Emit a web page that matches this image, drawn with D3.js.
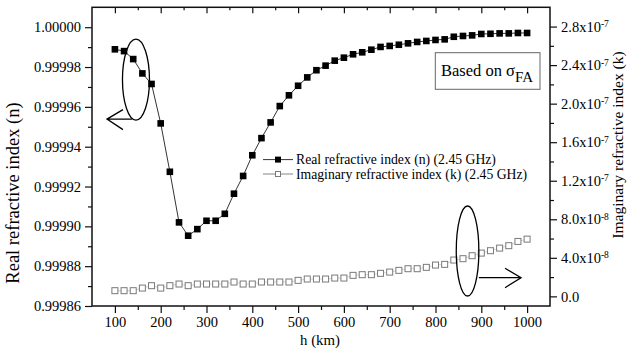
<!DOCTYPE html>
<html><head><meta charset="utf-8">
<script src="https://cdn.jsdelivr.net/npm/d3@7"></script>
<style>
body{margin:0;background:#fff}
svg{display:block}
</style>
</head><body>
<svg id="c" width="627" height="354"></svg>
<script>
// ---------- data ----------
const heights = [100,120,140,160,180,200,220,240,260,280,300,320,340,360,380,400,420,440,460,480,
  500,520,540,560,580,600,620,640,660,680,700,720,740,760,780,800,820,840,860,880,900,920,940,960,980,1000];
const realN = [0.9999889,0.9999880,0.9999840,0.9999768,0.9999715,0.9999517,0.9999274,0.9999020,0.9998953,0.9998986,
  0.9999028,0.9999028,0.9999063,0.9999164,0.9999253,0.9999357,0.9999443,0.9999522,0.9999604,0.9999658,
  0.9999706,0.9999748,0.9999784,0.9999807,0.9999832,0.9999847,0.9999864,0.9999874,0.9999887,0.9999901,
  0.9999906,0.9999912,0.9999919,0.9999926,0.9999931,0.9999936,0.9999939,0.9999952,0.9999956,0.9999959,
  0.9999966,0.9999967,0.9999969,0.9999969,0.9999971,0.9999971];
const imagK = [0.59e-8,0.59e-8,0.59e-8,0.86e-8,1.11e-8,0.86e-8,1.11e-8,1.28e-8,1.11e-8,1.28e-8,
  1.28e-8,1.28e-8,1.28e-8,1.49e-8,1.28e-8,1.28e-8,1.49e-8,1.49e-8,1.49e-8,1.49e-8,
  1.66e-8,1.80e-8,1.80e-8,1.80e-8,1.90e-8,1.90e-8,2.18e-8,2.25e-8,2.25e-8,2.39e-8,
  2.52e-8,2.70e-8,2.87e-8,2.87e-8,3.01e-8,3.25e-8,3.32e-8,3.77e-8,3.91e-8,4.22e-8,
  4.49e-8,4.74e-8,5.01e-8,5.26e-8,5.70e-8,5.94e-8];
const xTicks = [100,200,300,400,500,600,700,800,900,1000];
const xMinor = [150,250,350,450,550,650,750,850,950];
const leftTicks = [0.99986,0.99988,0.99990,0.99992,0.99994,0.99996,0.99998,1.00000];
const leftMinor = [0.99987,0.99989,0.99991,0.99993,0.99995,0.99997,0.99999];
const rightTicks = [0,4e-8,8e-8,1.2e-7,1.6e-7,2.0e-7,2.4e-7,2.8e-7];
const rightTickLabels = [["0.0",""],["4.0x10","-8"],["8.0x10","-8"],["1.2x10","-7"],["1.6x10","-7"],["2.0x10","-7"],["2.4x10","-7"],["2.8x10","-7"]];
const rightMinor = [2e-8,6e-8,1.0e-7,1.4e-7,1.8e-7,2.2e-7,2.6e-7];
const seriesNames = ["Real refractive index (n) (2.45 GHz)","Imaginary refractive index (k) (2.45 GHz)"];
// annotation ellipse centres in data space
const leftMarker = [146, 0.9999737];
const rightMarker = [870, 4.71e-8];

// ---------- layout ----------
const FF = '"Liberation Serif", "Times New Roman", Tinos, "DejaVu Serif", serif';
const L = 92, R = 550, T = 7.3, B = 306;
const svg = d3.select("#c").attr("font-family", FF);
const x = d3.scaleLinear().domain([50,1050]).range([L,R]);
const yL = d3.scaleLinear().domain([0.99986,1.00001]).range([B,T]);
const yR = d3.scaleLinear().domain([-1e-8,3e-7]).range([B,T]);

const FS = "14.5px";
function styleAxis(g){
  g.attr("font-family", FF);
  g.select(".domain").remove();
  g.selectAll(".tick line").attr("stroke","#111").attr("stroke-width",1.2);
  g.selectAll(".tick text").style("font-size",FS).attr("fill","#000");
}
// bottom
svg.append("g").attr("transform",`translate(0,${B})`)
  .call(d3.axisBottom(x).tickValues(xTicks).tickSize(7).tickPadding(4).tickFormat(d3.format("d"))).call(styleAxis);
svg.append("g").attr("transform",`translate(0,${B})`)
  .call(d3.axisBottom(x).tickValues(xMinor).tickSize(4).tickFormat("")).call(styleAxis);
// top (inward)
svg.append("g").attr("transform",`translate(0,${T})`)
  .call(d3.axisBottom(x).tickValues(xTicks).tickSize(6).tickFormat("")).call(styleAxis);
svg.append("g").attr("transform",`translate(0,${T})`)
  .call(d3.axisBottom(x).tickValues(xMinor).tickSize(3).tickFormat("")).call(styleAxis);
// left
svg.append("g").attr("transform",`translate(${L},0)`)
  .call(d3.axisLeft(yL).tickValues(leftTicks).tickSize(7).tickPadding(4).tickFormat(d=>d.toFixed(5))).call(styleAxis);
svg.append("g").attr("transform",`translate(${L},0)`)
  .call(d3.axisLeft(yL).tickValues(leftMinor).tickSize(4).tickFormat("")).call(styleAxis);
// right
const gR = svg.append("g").attr("transform",`translate(${R},0)`)
  .call(d3.axisRight(yR).tickValues(rightTicks).tickSize(7).tickPadding(4).tickFormat("")).call(styleAxis);
gR.selectAll(".tick text").each(function(d,i){
  const t = d3.select(this);
  const lab = rightTickLabels[i];
  t.text(null);
  t.append("tspan").text(lab[0]);
  if(lab[1]) t.append("tspan").attr("dy","-0.5em").style("font-size","9.5px").text(lab[1]);
});
svg.append("g").attr("transform",`translate(${R},0)`)
  .call(d3.axisRight(yR).tickValues(rightMinor).tickSize(4).tickFormat("")).call(styleAxis);

// frame
svg.append("rect").attr("x",L).attr("y",T).attr("width",R-L).attr("height",B-T)
  .attr("fill","none").attr("stroke","#111").attr("stroke-width",1.5);

// ---------- series ----------
const lineReal = d3.line().x((d,i)=>x(heights[i])).y(d=>yL(d));
const lineImag = d3.line().x((d,i)=>x(heights[i])).y(d=>yR(d));
svg.append("path").attr("d",lineImag(imagK)).attr("fill","none").attr("stroke","#aaa").attr("stroke-width",0.5);
svg.append("g").selectAll("rect").data(imagK).join("rect")
  .attr("x",(d,i)=>x(heights[i])-3).attr("y",d=>yR(d)-3).attr("width",6).attr("height",6)
  .attr("fill","#fff").attr("stroke","#7a7a7a").attr("stroke-width",1);
svg.append("path").attr("d",lineReal(realN)).attr("fill","none").attr("stroke","#000").attr("stroke-width",0.8);
svg.append("g").selectAll("rect").data(realN).join("rect")
  .attr("x",(d,i)=>x(heights[i])-3.3).attr("y",d=>yL(d)-3.3).attr("width",6.6).attr("height",6.6)
  .attr("fill","#000");

// ---------- annotations ----------
const lcx = x(leftMarker[0]), lcy = yL(leftMarker[1]);
svg.append("ellipse").attr("cx",lcx).attr("cy",lcy).attr("rx",13.5).attr("ry",40.5)
  .attr("fill","none").attr("stroke","#000").attr("stroke-width",1.3);
svg.append("path").attr("d",`M${lcx-4},${lcy+39.5}L${lcx-29},${lcy+39.5}M${lcx-13},${lcy+30}L${lcx-29},${lcy+39.5}L${lcx-13},${lcy+50}`)
  .attr("fill","none").attr("stroke","#000").attr("stroke-width",1.3);
const rcx = x(rightMarker[0]), rcy = yR(rightMarker[1]);
svg.append("ellipse").attr("cx",rcx).attr("cy",rcy).attr("rx",11.3).attr("ry",45)
  .attr("fill","none").attr("stroke","#000").attr("stroke-width",1.3);
svg.append("path").attr("d",`M${rcx+11.3},${rcy+26.7}L${rcx+53.5},${rcy+26.7}M${rcx+37.5},${rcy+17.3}L${rcx+53.5},${rcy+26.7}L${rcx+37.5},${rcy+36.7}`)
  .attr("fill","none").attr("stroke","#000").attr("stroke-width",1.3);

// ---------- legend ----------
const lg = svg.append("g");
const legY = [159.6, 174.0];
legY.forEach((yy,i)=>{
  lg.append("line").attr("x1",263).attr("x2",293).attr("y1",yy).attr("y2",yy)
    .attr("stroke", i===0?"#000":"#666").attr("stroke-width",0.8);
  if(i===0) lg.append("rect").attr("x",278-3).attr("y",yy-3).attr("width",6).attr("height",6).attr("fill","#000");
  else lg.append("rect").attr("x",278-2.5).attr("y",yy-2.5).attr("width",5).attr("height",5).attr("fill","#fff").attr("stroke","#7a7a7a");
  lg.append("text").attr("x",296).attr("y",yy+4.6).style("font-size","13.7px").text(seriesNames[i]);
});

// ---------- label box ----------
svg.append("rect").attr("x",435.3).attr("y",52.7).attr("width",104.7).attr("height",36.6)
  .attr("fill","#fff").attr("stroke","#666").attr("stroke-width",1);
const bt = svg.append("text").attr("x",441).attr("y",76).style("font-size","16.5px");
bt.append("tspan").text("Based on σ");
bt.append("tspan").attr("dy",6).style("font-size","15px").text("FA");

// ---------- axis titles ----------
svg.append("text").attr("transform","translate(19,193) rotate(-90)").attr("text-anchor","middle")
  .style("font-size","18.5px").text("Real refractive index (n)");
svg.append("text").attr("transform","translate(623,145) rotate(-90)").attr("text-anchor","middle")
  .style("font-size","15.5px").text("Imaginary refractive index (k)");
svg.append("text").attr("x",320).attr("y",345).attr("text-anchor","middle")
  .style("font-size","14.8px").text("h (km)");

svg.selectAll("text").style("font-family", FF).attr("fill","#000");
</script>
</body></html>
